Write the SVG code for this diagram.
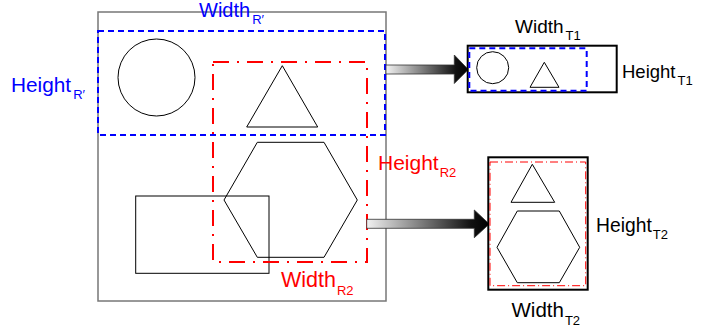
<svg xmlns="http://www.w3.org/2000/svg" width="701" height="332" viewBox="0 0 701 332">
<defs>
<linearGradient id="g" x1="0" y1="0" x2="1" y2="0">
<stop offset="0" stop-color="#f2f2f2"/>
<stop offset="0.85" stop-color="#111"/>
<stop offset="1" stop-color="#000"/>
</linearGradient>
<style>
text{font-family:"Liberation Sans",Arial,sans-serif;}
.sub{font-size:13px;}
.blue{fill:#0000ff;}
.red{fill:#ff0000;}
.blk{fill:#000;}
.shape{fill:none;stroke:#000;stroke-width:1;}
.bdash{fill:none;stroke:#0000ff;stroke-width:2;stroke-dasharray:6 4;}
.rdash{fill:none;stroke:#ff0000;stroke-width:2;stroke-dasharray:16 8 2 8;}
.rdash1{fill:none;stroke:#ff0000;stroke-width:1;stroke-dasharray:8 3 1 3;}
.tbox{fill:#fff;stroke:#000;stroke-width:2;}
.arrow{fill:url(#g);stroke:#333;stroke-width:0.8;}
</style>
</defs>
<g id="source">
<rect x="98" y="12" width="288" height="289" fill="#fff" stroke="#777" stroke-width="1.5"/>
<circle cx="156.5" cy="77.5" r="38.5" class="shape"/>
<polygon points="282.3,65.7 317.7,127 246.7,127" class="shape"/>
<rect x="135.7" y="196" width="133.3" height="77.3" class="shape"/>
<polygon points="257.3,142.3 324,142.3 357.3,200 324,257.3 257.3,257.3 224,200" class="shape"/>
<rect x="98" y="31" width="287" height="104" class="bdash"/>
<rect x="213" y="62" width="154" height="200" class="rdash"/>
<text x="199" y="17" class="blue" font-size="20">Width<tspan class="sub" dx="2" dy="6.5">R′</tspan></text>
<text x="11" y="91.5" class="blue" font-size="20.8">Height<tspan class="sub" dx="2" dy="7.5">R′</tspan></text>
<text x="378" y="169.5" class="red" font-size="21">Height<tspan class="sub" dx="1" dy="7.5">R2</tspan></text>
<text x="281" y="287" class="red" font-size="21.5">Width<tspan class="sub" dx="1" dy="7.5">R2</tspan></text>
</g>
<g id="connectors">
<polygon points="386,65 454.3,65 454.3,55 468.3,69.5 454.3,83.5 454.3,74 386,74" class="arrow"/>
<polygon points="366.7,219.3 474.3,219.3 474.3,210 489.3,224 474.3,237.7 474.3,228.3 366.7,228.3" class="arrow"/>
</g>
<g id="target1">
<rect x="467.7" y="45.7" width="149" height="46.6" class="tbox"/>
<rect x="469.3" y="48.3" width="117.4" height="42.4" class="bdash"/>
<circle cx="492.7" cy="67.7" r="16" class="shape"/>
<polygon points="544.3,62.3 559,87.3 530,87.3" class="shape"/>
<text x="515" y="33" class="blk" font-size="19">Width<tspan class="sub" dx="2" dy="7">T1</tspan></text>
<text x="622" y="77.5" class="blk" font-size="18.5">Height<tspan class="sub" dx="2" dy="7.5">T1</tspan></text>
</g>
<g id="target2">
<rect x="488.3" y="157.3" width="99.4" height="132.4" class="tbox"/>
<rect x="490" y="162" width="95.7" height="123.7" class="rdash1"/>
<polygon points="532.3,164.3 554.7,202.3 511,202.3" class="shape"/>
<polygon points="517.3,211 559.3,211 579.7,247.3 559.3,282.7 517.3,282.7 497,247.3" class="shape"/>
<text x="596" y="231.5" class="blk" font-size="19.3">Height<tspan class="sub" dx="1" dy="7.5">T2</tspan></text>
<text x="511.5" y="316.5" class="blk" font-size="20.5">Width<tspan class="sub" dx="1" dy="8">T2</tspan></text>
</g>
</svg>
